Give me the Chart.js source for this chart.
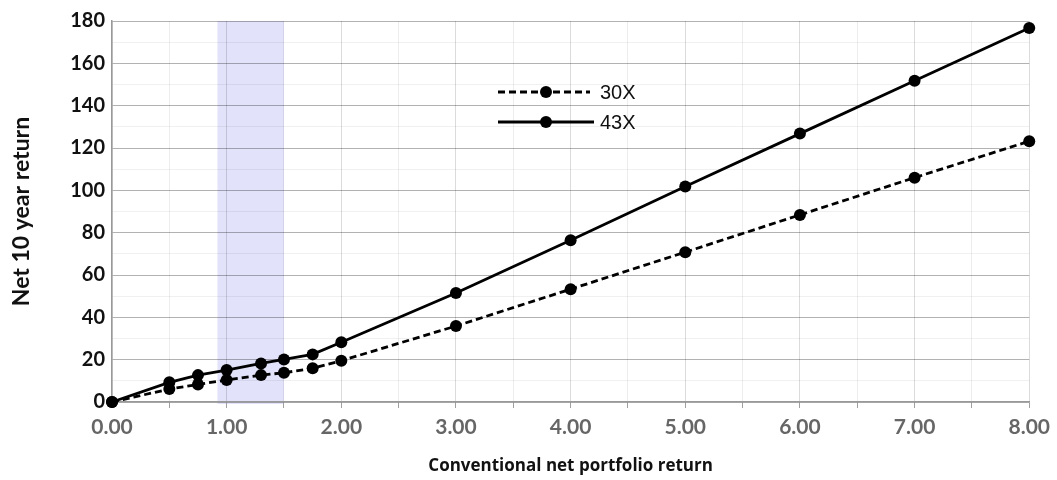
<!DOCTYPE html>
<html>
<head>
<meta charset="utf-8">
<script src="https://cdn.jsdelivr.net/npm/chart.js@4.4.1/dist/chart.umd.min.js"></script>
<style>
  body { margin: 0; background: #fff; }
  #wrap { width: 1057px; height: 480px; position: relative; }
</style>
</head>
<body>
<div id="wrap"><canvas id="chart"></canvas></div>
<script>
// ── Data ──
const xValues = [0, 0.5, 0.75, 1, 1.3, 1.5, 1.75, 2, 3, 4, 5, 6, 7, 8];
const series30 = [0, 6.1, 8.3, 10.4, 12.7, 13.8, 15.9, 19.5, 35.9, 53.3, 70.8, 88.4, 106, 123.2];
const series43 = [0, 9.3, 12.7, 15.1, 18.2, 20.1, 22.5, 28.2, 51.5, 76.4, 101.8, 126.8, 151.8, 176.7];
const seriesLabels = ['30X', '43X'];
const bandRange = [0.92, 1.5];   // shaded region on the x axis
const yTicksLabelled = [0, 20, 40, 60, 80, 100, 120, 140, 160, 180];

const toPoints = ys => xValues.map((x, i) => ({ x, y: ys[i] }));

// Shaded band, drawn under the grid
const bandPlugin = {
  id: 'band',
  beforeDraw(chart) {
    const { ctx, chartArea, scales: { x } } = chart;
    const x0 = x.getPixelForValue(bandRange[0]);
    const x1 = x.getPixelForValue(bandRange[1]);
    ctx.save();
    ctx.fillStyle = '#e2e2fa';
    ctx.fillRect(x0, chartArea.top, x1 - x0, chartArea.bottom - chartArea.top + 2);
    ctx.restore();
  }
};

// Legend with line + marker samples, inside the plot
const legendPlugin = {
  id: 'lineLegend',
  afterDatasetsDraw(chart) {
    const { ctx } = chart;
    chart.data.datasets.forEach((ds, i) => {
      const y = 92 + i * 30;
      ctx.save();
      ctx.strokeStyle = ds.borderColor;
      ctx.lineWidth = ds.borderWidth;
      ctx.setLineDash(ds.borderDash || []);
      ctx.beginPath();
      ctx.moveTo(498, y);
      ctx.lineTo(ds.borderDash ? 590 : 594, y);
      ctx.stroke();
      ctx.setLineDash([]);
      ctx.fillStyle = ds.pointBackgroundColor;
      ctx.beginPath();
      ctx.arc(546, y, ds.pointRadius, 0, Math.PI * 2);
      ctx.fill();
      ctx.font = '20px "Liberation Sans", Arial, sans-serif';
      ctx.textBaseline = 'middle';
      ctx.fillStyle = '#111';
      ctx.fillText(ds.label, 600, y + 1);
      ctx.restore();
    });
  }
};

new Chart(document.getElementById('chart'), {
  type: 'line',
  data: {
    datasets: [
      { label: seriesLabels[0], data: toPoints(series30), borderColor: '#000', borderWidth: 2.8, borderDash: [7, 4],
        pointRadius: 6, pointBackgroundColor: '#000', pointBorderWidth: 0, tension: 0, clip: false },
      { label: seriesLabels[1], data: toPoints(series43), borderColor: '#000', borderWidth: 2.8,
        pointRadius: 6, pointBackgroundColor: '#000', pointBorderWidth: 0, tension: 0, clip: false }
    ]
  },
  options: {
    responsive: true,
    maintainAspectRatio: false,
    animation: false,
    layout: { padding: { top: 21, right: 27, left: 0, bottom: 0 } },
    plugins: { legend: { display: false }, tooltip: { enabled: false } },
    scales: {
      x: {
        type: 'linear', min: 0, max: 8,
        afterFit: s => { s.height = 78; },
        ticks: {
          stepSize: 0.5, autoSkip: false, maxRotation: 0, padding: 7,
          color: '#666', font: { family: 'Lato', weight: 'bold', size: 21 },
          callback: v => Number.isInteger(v) ? v.toFixed(2) : ''
        },
        grid: {
          color: c => c.tick && Number.isInteger(c.tick.value) ? 'rgba(0,0,0,0.14)' : 'rgba(0,0,0,0.07)',
          tickColor: '#a0a0a0', tickLength: 6
        },
        border: { color: '#999', width: 1.5 },
        title: {
          display: true, text: 'Conventional net portfolio return', color: '#111',
          font: { family: '"Open Sans"', weight: 'bold', size: 17 }, padding: { bottom: 4 }
        }
      },
      y: {
        min: 0, max: 180,
        afterFit: s => { s.width = 112; },
        ticks: {
          stepSize: 10, autoSkip: false, padding: 7,
          color: '#111', font: { family: 'Lato', weight: 'bold', size: 20 },
          callback: v => yTicksLabelled.includes(v) ? v : ''
        },
        grid: {
          color: c => c.tick && yTicksLabelled.includes(c.tick.value) ? 'rgba(0,0,0,0.3)' : 'rgba(0,0,0,0.06)',
          drawTicks: false
        },
        border: { color: '#999', width: 1.5 },
        title: {
          display: true, text: 'Net 10 year return', color: '#111',
          font: { family: 'Lato', weight: 'bold', size: 23 }, padding: { top: 8 }
        }
      }
    }
  },
  plugins: [bandPlugin, legendPlugin]
});
</script>
</body>
</html>
